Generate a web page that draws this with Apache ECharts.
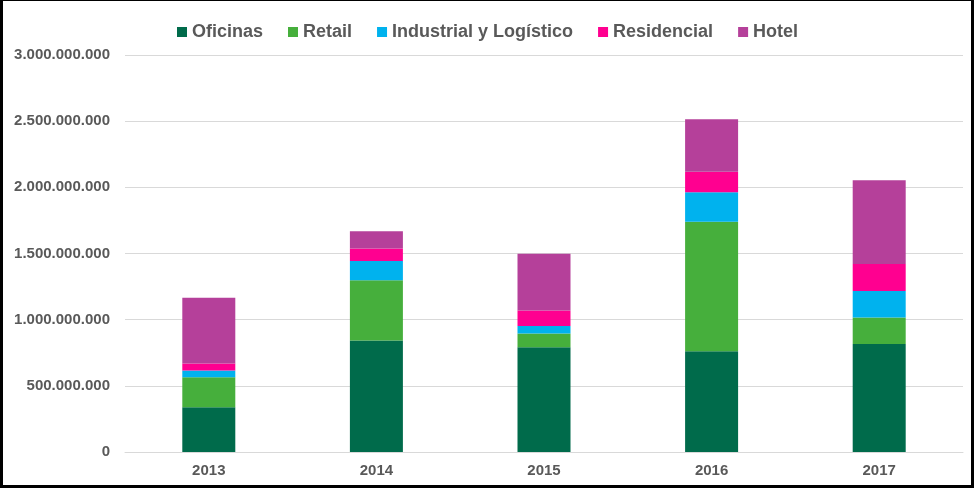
<!DOCTYPE html>
<html>
<head>
<meta charset="utf-8">
<script src="https://cdn.jsdelivr.net/npm/echarts@6/dist/echarts.min.js"></script>
<style>
  html, body { margin: 0; padding: 0; background: #fff; }
  #chart { position: absolute; left: 0; top: 0; width: 980px; height: 489px; }
  #frame { position: absolute; left: 0; top: 0; width: 974px; height: 488px; box-sizing: border-box;
           border-left: 3px solid #000; border-top: 1px solid #000; border-right: 3px solid #000; border-bottom: 3px solid #000;
           pointer-events: none; }
</style>
</head>
<body>
<div id="chart"></div>
<div id="frame"></div>
<script>
const categories = ['2013', '2014', '2015', '2016', '2017'];
const seriesNames = ['Oficinas', 'Retail', 'Industrial y Logístico', 'Residencial', 'Hotel'];
const oficinas    = [338000000, 843000000, 792000000, 762000000, 817000000];
const retail      = [227000000, 454000000, 103000000, 978000000, 200000000];
const industrial  = [ 51000000, 146000000,  58000000, 222000000, 199000000];
const residencial = [ 53000000,  95000000, 116000000, 156000000, 204000000];
const hotel       = [496000000, 131000000, 429000000, 396000000, 633000000];
const colors = ['#006B4B', '#46AF3C', '#00B2EE', '#FF0090', '#B5409A'];

const values = [oficinas, retail, industrial, residencial, hotel];

function fmt(v) {
  return String(Math.round(v)).replace(/\B(?=(\d{3})+(?!\d))/g, '.');
}

const chart = echarts.init(document.getElementById('chart'), null, { renderer: 'canvas' });
chart.setOption({
  animation: false,
  backgroundColor: '#ffffff',
  textStyle: { fontFamily: 'Liberation Sans, Arial, sans-serif' },
  legend: {
    data: seriesNames,
    left: 172,
    top: 18,
    itemWidth: 10,
    itemHeight: 10,
    itemGap: 25,
    icon: 'rect',
    textStyle: { color: '#595959', fontSize: 18, fontWeight: 'bold', fontFamily: 'Liberation Sans, Arial, sans-serif' }
  },
  grid: { left: 125, right: 17, top: 55, height: 397, containLabel: false },
  xAxis: {
    type: 'category',
    data: categories,
    axisLine: { show: true, lineStyle: { color: '#D9D9D9', width: 1 } },
    axisTick: { show: false },
    axisLabel: { color: '#595959', fontSize: 15, fontWeight: 'bold', margin: 11 }
  },
  yAxis: {
    type: 'value',
    min: 0,
    max: 3000000000,
    interval: 500000000,
    axisLine: { show: false },
    axisTick: { show: false },
    splitLine: { lineStyle: { color: '#D9D9D9', width: 1 } },
    axisLabel: { color: '#595959', fontSize: 15, fontWeight: 'bold', margin: 15, formatter: fmt }
  },
  series: seriesNames.map((name, i) => ({
    name: name,
    type: 'bar',
    stack: 'total',
    barWidth: 53,
    itemStyle: { color: colors[i] },
    data: values[i]
  }))
});
</script>
</body>
</html>
